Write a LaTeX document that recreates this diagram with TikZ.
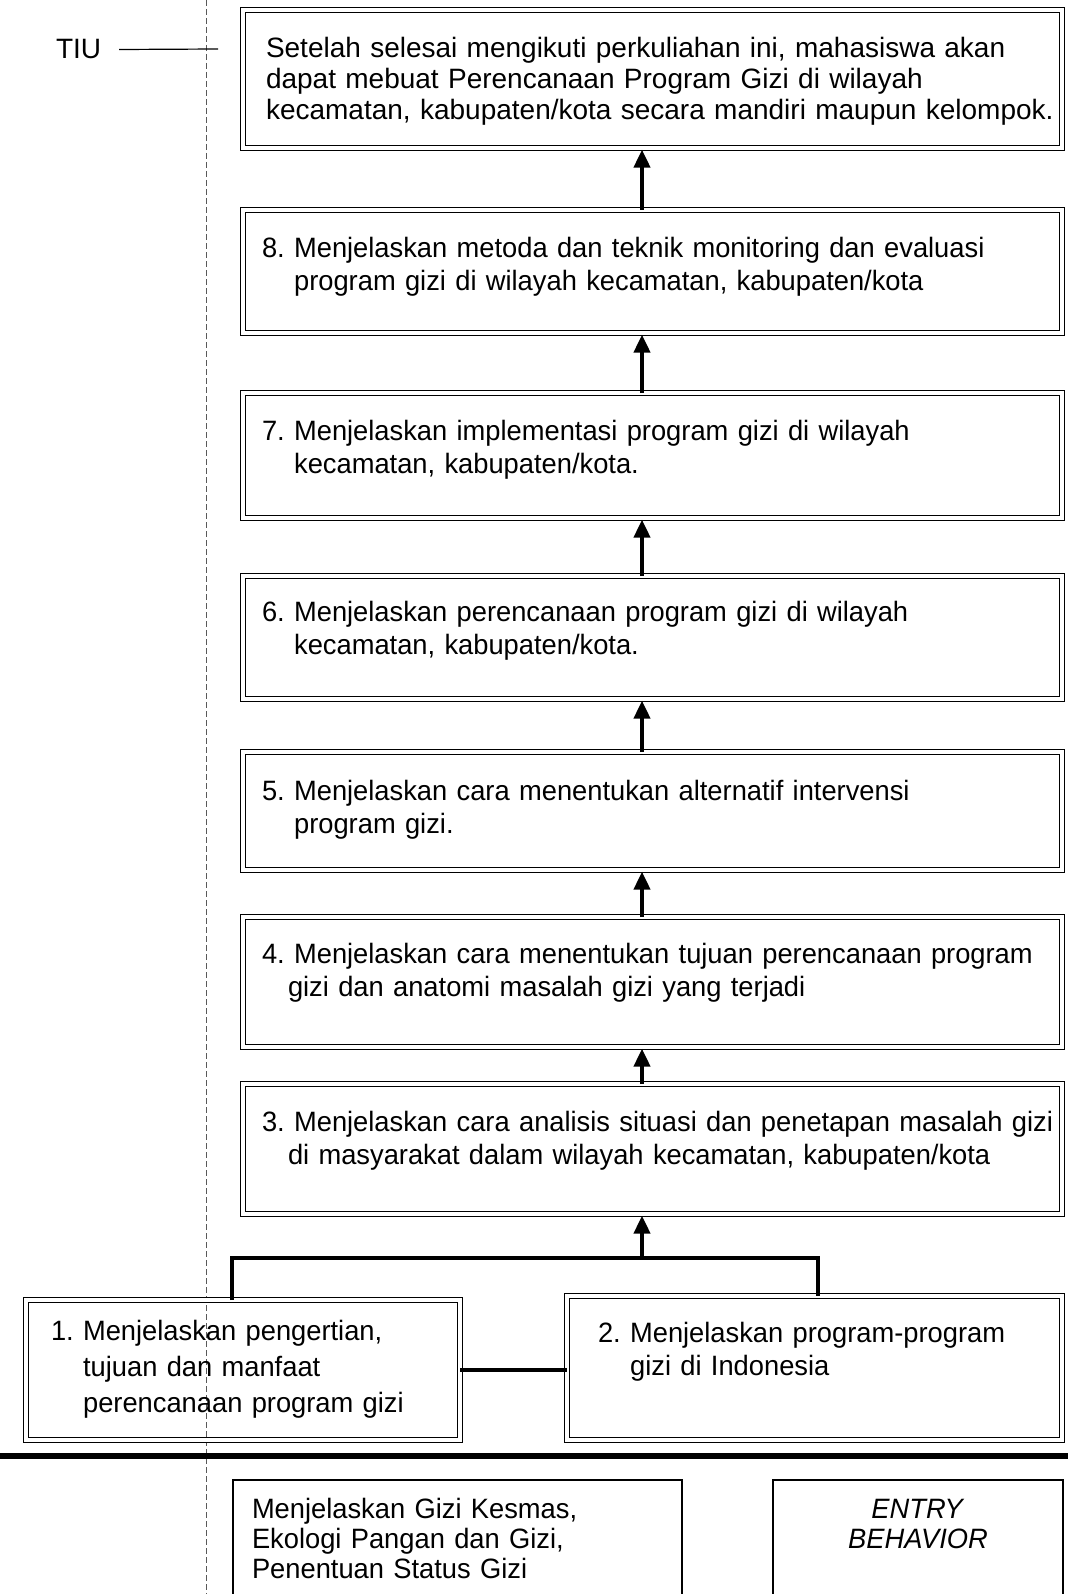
\documentclass[tikz,border=0pt]{standalone}
\usepackage{fontspec}
\setmainfont{Liberation Sans}
\newfontfamily\cnd{Liberation Sans}[FakeStretch=0.975]
\usetikzlibrary{arrows.meta}
\frenchspacing
\begin{document}
\begin{tikzpicture}[x=0.5pt,y=-0.5pt,
  every node/.style={inner sep=0pt,outer sep=0pt},
  dbox/.style={draw,double,double distance=1.6pt,line width=0.6pt,anchor=north west,align=left,inner ysep=0pt},
  sbox/.style={draw,line width=0.7pt,anchor=north west,inner ysep=0pt},
  upar/.style={line width=2pt,-{Triangle[width=8pt,length=9pt]},shorten >=0.8pt},
  conn/.style={line width=2pt},
  fa/.style={font=\fontsize{14pt}{15.5pt}\selectfont},
  fb/.style={font=\cnd\fontsize{14pt}{16.5pt}\selectfont},
  fc/.style={font=\cnd\fontsize{14pt}{18pt}\selectfont},
  fd/.style={font=\cnd\fontsize{14pt}{15pt}\selectfont},
  guide/.style={line width=0.4pt,black!65,dash pattern=on 3pt off 1.5pt},
]
\clip (0,0) rectangle (1068,1594);

% dashed guide line
\coordinate (dt) at (206,0);
\coordinate (db) at (206,1594);
\draw[guide] (dt) -- (db);

% TIU label
\node[fa,anchor=base west] (tiul) at (56,59) {TIU};
\coordinate (tiue) at (218,49);

% main boxes
\node[dbox,fa,inner xsep=11.5pt,text width=386.5pt,text height=24pt,text depth=45pt] (tiu) at (243,10)
 {\mbox{Setelah selesai mengikuti perkuliahan ini, mahasiswa akan}\\
  \mbox{dapat mebuat Perencanaan Program Gizi di wilayah}\\
  \mbox{kecamatan, kabupaten/kota secara mandiri maupun kelompok.}};

\node[dbox,fb,inner xsep=9.5pt,text width=390.5pt,text height=23.5pt,text depth=38pt] (b8) at (243,210)
 {\mbox{8. Menjelaskan metoda dan teknik monitoring dan evaluasi}\\
  \mbox{\phantom{8.~}program gizi di wilayah kecamatan, kabupaten/kota}};

\node[dbox,fb,inner xsep=9.5pt,text width=390.5pt,text height=23.5pt,text depth=39pt] (b7) at (243,393)
 {\mbox{7. Menjelaskan implementasi program gizi di wilayah}\\
  \mbox{\phantom{7.~}kecamatan, kabupaten/kota.}};

\node[dbox,fb,inner xsep=9.5pt,text width=390.5pt,text height=22.5pt,text depth=39pt] (b6) at (243,576)
 {\mbox{6. Menjelaskan perencanaan program gizi di wilayah}\\
  \mbox{\phantom{6.~}kecamatan, kabupaten/kota.}};

\node[dbox,fb,inner xsep=9.5pt,text width=390.5pt,text height=24pt,text depth=35pt] (b5) at (243,752)
 {\mbox{5. Menjelaskan cara menentukan alternatif intervensi}\\
  \mbox{\phantom{5.~}program gizi.}};

\node[dbox,fb,inner xsep=9.5pt,text width=390.5pt,text height=23pt,text depth=42pt] (b4) at (243,917)
 {\mbox{4. Menjelaskan cara menentukan tujuan perencanaan program}\\
  \mbox{\hspace*{13pt}gizi dan anatomi masalah gizi yang terjadi}};

\node[dbox,fb,inner xsep=9.5pt,text width=390.5pt,text height=23.5pt,text depth=41.5pt] (b3) at (243,1084)
 {\mbox{3. Menjelaskan cara analisis situasi dan penetapan masalah gizi}\\
  \mbox{\hspace*{13pt}di masyarakat dalam wilayah kecamatan, kabupaten/kota}};

\node[dbox,fc,inner xsep=12.5pt,text width=192pt,text height=20pt,text depth=50pt] (b1) at (26,1300)
 {\mbox{1. Menjelaskan pengertian,}\\
  \mbox{\phantom{1.~}tujuan dan manfaat}\\
  \mbox{\phantom{1.~}perencanaan program gizi}};

\node[dbox,fb,inner xsep=15.5pt,text width=216.5pt,text height=23pt,text depth=49pt] (b2) at (567,1296)
 {\mbox{2. Menjelaskan program-program}\\
  \mbox{\phantom{2.~}gizi di Indonesia}};

% entry behaviour boxes
\node[sbox,fd,align=left,inner xsep=9.5pt,text width=205.5pt,text height=19pt,text depth=51pt] (ea) at (233,1480)
 {\mbox{Menjelaskan Gizi Kesmas,}\\
  \mbox{Ekologi Pangan dan Gizi,}\\
  \mbox{Penentuan Status Gizi}};

\node[sbox,fd,align=center,inner xsep=5pt,text width=135pt,text height=19pt,text depth=51pt] (eb) at (773,1480)
 {\textit{ENTRY}\\ \textit{BEHAVIOR}};

% TIU pointer
\draw[line width=0.6pt] ([xshift=9pt]tiul.east) -- (tiue);

% arrows
\coordinate (ax) at (642,0);
\draw[upar] (b8.north -| ax) -- (tiu.south -| ax);
\draw[upar] (b7.north -| ax) -- (b8.south -| ax);
\draw[upar] (b6.north -| ax) -- (b7.south -| ax);
\draw[upar] (b5.north -| ax) -- (b6.south -| ax);
\draw[upar] (b4.north -| ax) -- (b5.south -| ax);
\draw[upar] (b3.north -| ax) -- (b4.south -| ax);

% junction of 1 and 2
\coordinate (jl) at (232,1258);
\coordinate (jr) at (818,1258);
\draw[conn] (b1.north -| jl) -- (jl) -- (jr) -- (b2.north -| jr);
\draw[upar] (jl -| ax) -- (b3.south -| ax);
\draw[conn] (b1.east) -- (b2.west |- b1.east);

% separator
\coordinate (hl) at (0,1456);
\coordinate (hr) at (1068,1456);
\draw[line width=2.6pt] (hl) -- (hr);
\end{tikzpicture}
\end{document}
